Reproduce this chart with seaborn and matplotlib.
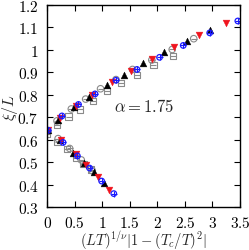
import matplotlib
matplotlib.use("Agg")
import matplotlib.pyplot as plt
from matplotlib.ticker import FuncFormatter
import seaborn as sns
import pandas as pd

# ------------------------
# Data
# ------------------------

# black up-triangles
black_x = [0.02, 0.20, 0.49, 0.76, 1.08, 1.40, 1.74, 2.12, 2.53, 2.96,
           0.23, 0.47, 0.67, 0.85, 1.04]
black_y = [0.642, 0.688, 0.745, 0.790, 0.845, 0.890, 0.942, 0.990, 1.040, 1.088,
           0.599, 0.543, 0.495, 0.458, 0.407]

# red down-triangles
red_x = [0.02, 0.24, 0.53, 0.82, 1.17, 1.53, 1.90, 2.30, 2.75, 3.24,
         0.25, 0.52, 0.71, 0.93, 1.13]
red_y = [0.642, 0.697, 0.752, 0.797, 0.855, 0.906, 0.958, 1.014, 1.068, 1.121,
         0.597, 0.535, 0.488, 0.433, 0.378]

# blue circled crosses
blue_x = [0.02, 0.27, 0.57, 0.87, 1.25, 1.63, 2.04, 2.47, 2.95, 3.46,
          0.29, 0.55, 0.77, 0.99, 1.21]
blue_y = [0.642, 0.706, 0.757, 0.804, 0.865, 0.913, 0.967, 1.020, 1.076, 1.129,
          0.588, 0.528, 0.474, 0.416, 0.360]

# gray circles with bar
circ_x = [0.01, 0.18, 0.44, 0.70, 0.97, 1.25, 1.55, 1.90, 2.27, 2.66,
          0.20, 0.41, 0.62, 0.82]
circ_y = [0.640, 0.684, 0.737, 0.781, 0.827, 0.868, 0.913, 0.955, 1.002, 1.050,
          0.605, 0.561, 0.510, 0.462]

# gray squares with bar
sq_x = [0.00, 0.18, 0.39, 0.60, 0.84, 1.08, 1.34, 1.63, 1.93, 2.28,
        0.19, 0.36, 0.52, 0.66, 0.79]
sq_y = [0.626, 0.665, 0.703, 0.735, 0.773, 0.816, 0.854, 0.889, 0.933, 0.973,
        0.590, 0.559, 0.520, 0.492, 0.467]

x_ticks = [0, 0.5, 1, 1.5, 2, 2.5, 3, 3.5]
y_ticks = [0.3, 0.4, 0.5, 0.6, 0.7, 0.8, 0.9, 1.0, 1.1, 1.2]

# ------------------------
# Plot
# ------------------------

sns.set_theme(style="ticks")
plt.rcParams["mathtext.fontset"] = "cm"
plt.rcParams["font.family"] = ["DejaVu Serif"]

fig = plt.figure(figsize=(2.49, 2.51), dpi=100)
ax = fig.add_axes([0.189, 0.171, 0.775, 0.805])

gray = "#8a8a8a"
blue = "#1a1aff"
df_sq = pd.DataFrame({"x": sq_x, "y": sq_y})
df_circ = pd.DataFrame({"x": circ_x, "y": circ_y})
df_black = pd.DataFrame({"x": black_x, "y": black_y})
df_red = pd.DataFrame({"x": red_x, "y": red_y})
df_blue = pd.DataFrame({"x": blue_x, "y": blue_y})

sns.scatterplot(data=df_sq, x="x", y="y", ax=ax, marker="s", s=20,
                facecolor="none", edgecolor=gray, linewidth=0.8)
sns.scatterplot(data=df_sq, x="x", y="y", ax=ax, marker="_", s=20,
                color=gray, linewidth=0.8)
sns.scatterplot(data=df_circ, x="x", y="y", ax=ax, marker="o", s=22,
                facecolor="none", edgecolor=gray, linewidth=0.8)
sns.scatterplot(data=df_circ, x="x", y="y", ax=ax, marker="_", s=20,
                color=gray, linewidth=0.8)
sns.scatterplot(data=df_black, x="x", y="y", ax=ax, marker="^", s=24,
                color="black", edgecolor="black", linewidth=0.3)
sns.scatterplot(data=df_red, x="x", y="y", ax=ax, marker="v", s=24,
                color="#f0141e", edgecolor="#f0141e", linewidth=0.3)
sns.scatterplot(data=df_blue, x="x", y="y", ax=ax, marker="o", s=16,
                facecolor="none", edgecolor=blue, linewidth=0.9)
sns.scatterplot(data=df_blue, x="x", y="y", ax=ax, marker="+", s=16,
                color=blue, linewidth=0.8)

ax.set_xlim(0, 3.5)
ax.set_ylim(0.3, 1.2)
ax.set_xticks(x_ticks)
ax.set_yticks(y_ticks)
fmt = FuncFormatter(lambda v, p: r"$%g$" % round(v, 2))
ax.xaxis.set_major_formatter(fmt)
ax.yaxis.set_major_formatter(fmt)
ax.tick_params(direction="in", top=True, right=True, length=4, width=0.8,
               labelsize=11, pad=6, colors="black")
for s in ax.spines.values():
    s.set_visible(True)
    s.set_linewidth(1.0)
    s.set_color("black")

ax.set_xlabel(r"$(LT)^{1/\nu}|1-(T_c/T)^2|$", fontsize=10.5, labelpad=-1)
ax.set_ylabel(r"$\xi/L$", fontsize=11.5, labelpad=-2)
ax.text(1.76, 0.75, r"$\alpha = 1.75$", fontsize=12, ha="center", va="center")

fig.savefig("out.png", dpi=100)
